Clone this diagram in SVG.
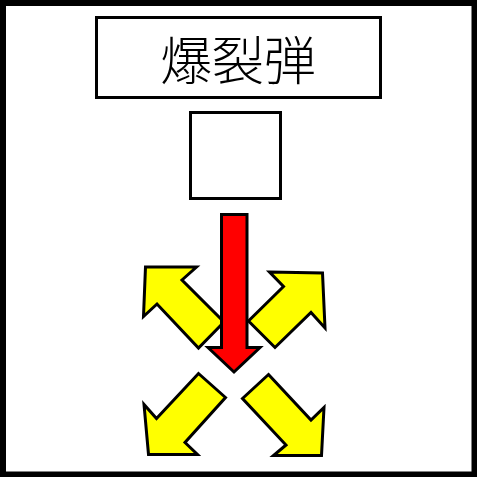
<svg xmlns="http://www.w3.org/2000/svg" width="477" height="477" viewBox="0 0 477 477">
  <style>
    .box { fill: #ffffff; stroke: #000000; stroke-width: 3; }
    .yellow { fill: #ffff00; stroke: #000000; stroke-width: 3; stroke-linejoin: miter; }
    .red { fill: #ff0000; stroke: #000000; stroke-width: 3; stroke-linejoin: miter; }
    .title { font-family: "Noto Sans CJK JP", "Noto Sans", sans-serif; font-weight: 300; font-size: 52px; fill: #000000; }
  </style>
  <rect x="0" y="0" width="477" height="477" fill="#ffffff"/>
  <g id="frame">
    <rect x="3" y="3" width="471.5" height="471.5" fill="none" stroke="#000000" stroke-width="6"/>
  </g>
  <g id="title">
    <rect class="box" x="96.5" y="17.5" width="284" height="80"/>
    <text class="title" x="238" y="80" text-anchor="middle">爆裂弾</text>
  </g>
  <g id="square">
    <rect class="box" x="190.5" y="112.5" width="90" height="86"/>
  </g>
  <g id="connectors">
    <polygon id="arrow-ul" class="yellow" points="145.5,267 196.5,267 182,280 224,322 198.5,348 157,304 143.5,316.5"/>
    <polygon id="arrow-ur" class="yellow" points="269.5,272 322.5,273 325,328 311,312.5 275,347.5 248.5,321 283.5,286.5"/>
    <polygon id="arrow-ll" class="yellow" points="198.5,373.5 225.5,397.5 185,442.5 197.5,454.5 148.5,454.5 144,404.5 156.5,418.5"/>
    <polygon id="arrow-lr" class="yellow" points="268.5,374.5 311,420 324,407.5 321.5,455.5 273.5,455.5 286,445 242.5,398.5"/>
    <polygon id="arrow-down" class="red" points="221.5,214.5 247,214.5 247,347.5 260,347.5 234,372 208,347.5 221.5,347.5"/>
  </g>
</svg>
